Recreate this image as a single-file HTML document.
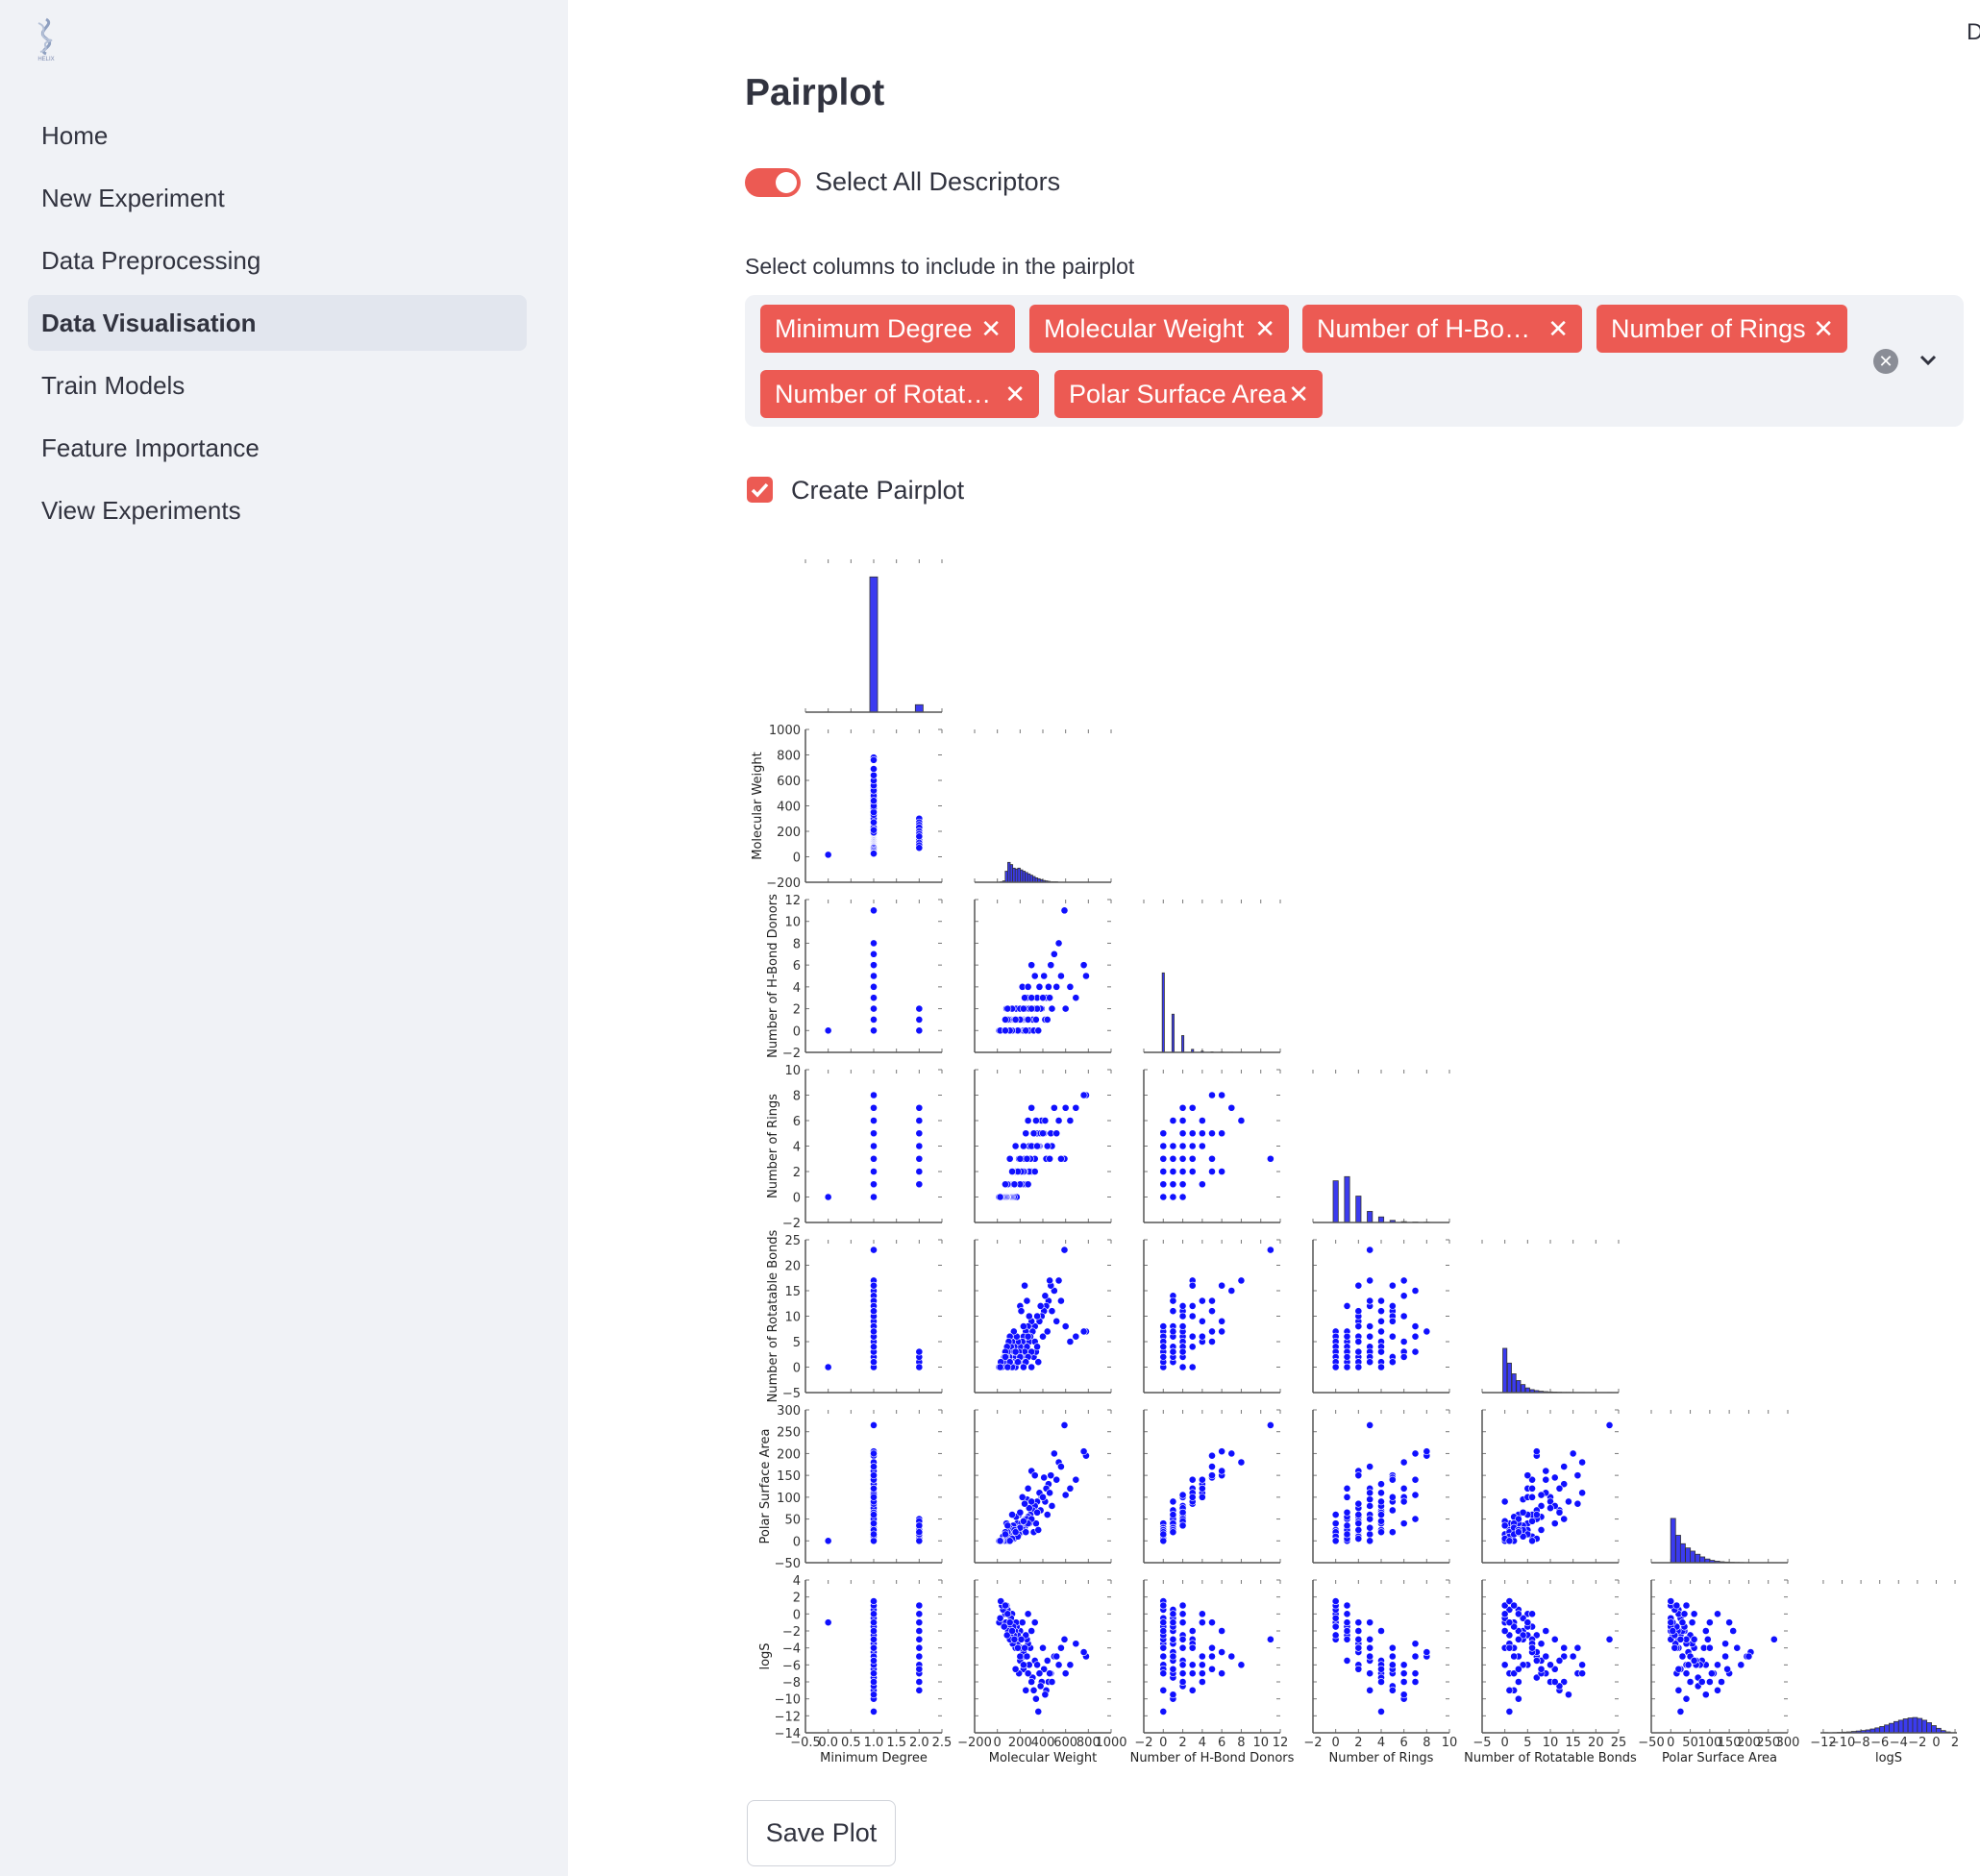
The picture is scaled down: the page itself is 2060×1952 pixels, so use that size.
<!DOCTYPE html>
<html><head><meta charset="utf-8">
<style>
body{margin:0;width:2060px;height:1952px;position:relative;background:#fff;font-family:"Liberation Sans",sans-serif;color:#31333f;overflow:hidden}
.sidebar{position:absolute;left:0;top:0;width:591px;height:1952px;background:#f0f2f6}
.nav{position:absolute;left:43px;font-size:26px;color:#31333f}
.active{position:absolute;left:29px;top:307px;width:519px;height:58px;background:#e2e6ee;border-radius:8px}
.tag{position:absolute;height:50px;background:#ec5a53;color:#fff;border-radius:6px;font-size:27px;line-height:50px;padding-left:15px;box-sizing:border-box;white-space:nowrap}
.tag span{position:absolute;right:14px;top:0;font-size:26px}
</style></head><body>
<div class="sidebar">
  <svg style="position:absolute;left:28px;top:16px" width="40" height="48" viewBox="0 0 40 48">
    <path d="M20 4 C30 10 8 16 20 24 C32 32 10 36 20 40" stroke="#8fa0c0" stroke-width="3" fill="none"/>
    <path d="M12 8 C26 14 6 22 26 26 C10 30 28 34 14 38" stroke="#b6c2d8" stroke-width="2" fill="none"/>
    <text x="20" y="47" font-size="6" text-anchor="middle" fill="#7d8bb0" font-family="Liberation Sans">HELIX</text>
  </svg>
  <div class="active"></div>
  <div class="nav" style="top:126px">Home</div>
  <div class="nav" style="top:191px">New Experiment</div>
  <div class="nav" style="top:256px">Data Preprocessing</div>
  <div class="nav" style="top:321px;font-weight:bold">Data Visualisation</div>
  <div class="nav" style="top:386px">Train Models</div>
  <div class="nav" style="top:451px">Feature Importance</div>
  <div class="nav" style="top:516px">View Experiments</div>
</div>
<div style="position:absolute;left:2046px;top:20px;font-size:24px">D</div>
<div style="position:absolute;left:775px;top:75px;font-size:39px;font-weight:bold">Pairplot</div>
<div style="position:absolute;left:775px;top:175px;width:58px;height:30px;border-radius:15px;background:#ec5a53"><div style="position:absolute;left:32px;top:4px;width:22px;height:22px;border-radius:11px;background:#fff"></div></div>
<div style="position:absolute;left:848px;top:174px;font-size:27px">Select All Descriptors</div>
<div style="position:absolute;left:775px;top:264px;font-size:23px">Select columns to include in the pairplot</div>
<div style="position:absolute;left:775px;top:307px;width:1268px;height:137px;background:#f0f2f6;border-radius:10px"></div>
<div class="tag" style="left:791px;top:317px;width:265px">Minimum Degree<span>✕</span></div>
<div class="tag" style="left:1071px;top:317px;width:270px">Molecular Weight<span>✕</span></div>
<div class="tag" style="left:1355px;top:317px;width:291px">Number of H-Bo…<span>✕</span></div>
<div class="tag" style="left:1661px;top:317px;width:261px">Number of Rings<span>✕</span></div>
<div class="tag" style="left:791px;top:385px;width:290px">Number of Rotat…<span>✕</span></div>
<div class="tag" style="left:1097px;top:385px;width:279px">Polar Surface Area<span>✕</span></div>
<div style="position:absolute;left:1949px;top:363px;width:26px;height:26px;border-radius:13px;background:#8a8d96;color:#fff;font-size:18px;text-align:center;line-height:26px">✕</div>
<svg style="position:absolute;left:1996px;top:368px" width="20" height="14"><path d="M3 3 L10 10 L17 3" stroke="#31333f" stroke-width="3" fill="none"/></svg>
<div style="position:absolute;left:777px;top:496px;width:27px;height:27px;border-radius:5px;background:#ec5a53"><svg width="27" height="27"><path d="M6 14 L11 19 L21 8" stroke="#fff" stroke-width="3.5" fill="none"/></svg></div>
<div style="position:absolute;left:823px;top:495px;font-size:27px">Create Pairplot</div>
<div style="position:absolute;left:777px;top:1873px;width:155px;height:69px;border:1px solid #d0d3da;border-radius:8px;box-sizing:border-box;font-size:27px;text-align:center;line-height:67px">Save Plot</div>
<svg id="chart" style="position:absolute;left:0;top:0" width="2060" height="1952"></svg>
<script>
const varNames=['Minimum Degree','Molecular Weight','Number of H-Bond Donors','Number of Rings','Number of Rotatable Bonds','Polar Surface Area','logS'];
const minDegree=[0,1,1,1,1,1,1,1,1,1,1,1,1,1,1,1,1,1,1,1,1,1,1,1,1,1,1,1,1,1,1,1,1,1,1,1,1,1,1,1,1,1,1,1,1,1,1,1,1,1,1,1,1,1,1,1,1,1,1,1,1,1,1,1,1,1,1,1,1,1,1,1,1,1,1,1,1,1,1,1,2,2,2,2,2,2,2,2,2,2,2,2];
const molWeight=[16,780,760,590,540,500,470,450,430,410,390,370,350,330,310,300,290,280,270,260,250,240,230,220,210,200,190,180,175,170,165,160,155,150,145,140,135,130,125,120,115,110,105,100,95,90,85,80,75,70,60,50,40,30,25,320,340,360,380,420,460,480,520,560,600,640,690,280,260,240,300,200,230,330,270,350,400,440,190,210,300,270,250,230,200,180,150,130,110,90,70,160];
const hBondDonors=[0,5,6,11,8,7,6,4,3,5,2,4,3,2,1,6,2,0,1,3,2,0,1,4,0,1,2,0,1,0,2,0,1,0,0,1,0,2,0,1,0,0,1,0,0,1,0,2,0,1,0,0,0,0,0,0,1,0,2,1,3,2,4,5,2,4,3,2,1,3,3,2,0,5,4,2,3,1,0,1,2,1,0,2,1,0,1,0,0,2,0,1];
const numRings=[0,8,8,3,6,7,5,4,3,5,6,4,5,3,4,2,3,4,2,3,1,3,2,1,2,1,2,1,2,0,1,2,1,1,0,1,2,0,1,0,1,0,1,0,1,0,0,0,1,0,0,0,0,0,0,5,6,4,5,6,3,4,5,3,7,6,7,2,3,2,4,1,2,2,1,4,5,4,3,2,7,6,5,4,3,2,1,2,3,1,1,4];
const rotBonds=[0,7,7,23,17,15,16,13,12,11,10,9,10,8,7,9,6,5,8,4,7,3,6,5,2,4,3,5,1,6,2,0,3,4,7,2,1,5,3,4,1,6,2,5,0,3,4,2,1,3,2,1,0,1,0,2,3,1,12,14,17,11,9,13,8,5,6,10,13,16,0,12,8,5,6,4,6,7,1,11,3,2,1,0,2,1,3,0,1,0,2,3];
const polarSA=[0,195,205,265,180,200,150,130,120,145,100,110,90,80,70,160,60,40,55,95,50,30,45,100,20,35,60,25,40,10,55,15,30,20,5,35,12,60,18,25,10,0,30,15,0,20,10,40,5,20,0,10,0,0,0,20,40,25,70,90,110,80,140,170,105,120,140,75,50,85,90,65,25,150,120,65,100,60,15,40,50,40,20,45,30,10,25,5,0,35,15,20];
const logS=[-1,-5,-4.5,-3,-6,-5,-7,-8,-9,-6.5,-8,-7,-6,-5.5,-7.5,-2,-4,-6,-3.5,-3,-2.5,-5,-4.5,-1,-4,-2,-3,-2.5,-3.5,-1.5,-1,-4,-2,-3,-2.5,-1.5,-3.5,0,-2,-0.5,-2.5,-3,-1,-1.5,-2,0.5,-2.5,1,-1,0,-1.5,0.5,1,1.5,-0.5,-9,-10,-11.5,-8.5,-9.5,-7,-8,-5,-4,-7,-6,-3.5,-6,-5,-4,-2,-5.5,-6.5,-1,0,-6,-4,-5.5,-7,-3,-8,-7,-9,-6,-5,-4,-3,-2,-1,0,1,-6.5];
const series=[minDegree,molWeight,hBondDonors,numRings,rotBonds,polarSA,logS];
const axisMin=[-0.5,-200,-2,-2,-5,-50,-14];
const axisMax=[2.5,1000,12,10,25,300,4];
const xMinLogS=-12.3, xMaxLogS=2.2;
const tickVals=[[-0.5,0,0.5,1,1.5,2,2.5],[-200,0,200,400,600,800,1000],[-2,0,2,4,6,8,10,12],[-2,0,2,4,6,8,10],[-5,0,5,10,15,20,25],[-50,0,50,100,150,200,250,300],[-14,-12,-10,-8,-6,-4,-2,0,2,4]];
const xTickLogS=[-12,-10,-8,-6,-4,-2,0,2];
const histCenters=[[0,1,2],[36,58,80,102,124,146,168,190,212,234,256,278,300,322,344,366,388,410,432,454,476,498,520],[0,1,2,3,4,5,6,7,8],[0,1,2,3,4,5,6,7,8],[0,1,2,3,4,5,6,7,8,9,10,11,12,13,14,15,16,17,23],[6,19,31,44,56,69,81,94,106,119,131,144,156,169,181,194,206,219,231,269],[-11.75,-11.25,-10.75,-10.25,-9.75,-9.25,-8.75,-8.25,-7.75,-7.25,-6.75,-6.25,-5.75,-5.25,-4.75,-4.25,-3.75,-3.25,-2.75,-2.25,-1.75,-1.25,-0.75,-0.25,0.25,0.75,1.25,1.75]];
const histCounts=[[1,1000,55],[1,3,25,45,40,32,30,32,28,25,22,19,16,13,10,8,6,4,3,2,1,1,1],[520,250,110,20,8,3,2,1,1],[300,330,190,80,40,15,6,3,2],[330,220,140,90,60,35,22,15,10,7,5,4,3,2,2,1,1,1,1],[420,260,180,140,110,80,55,35,22,14,9,6,4,3,2,1,1,1,0,1],[1,0,1,2,3,4,6,8,10,13,17,22,28,35,42,50,56,62,66,68,64,56,45,32,20,10,4,1]];
const histMax=[1130,346,1000,1100,1140,1450,680];
const histBarWidth=[0.17,22,0.22,0.45,0.9,12.5,0.5];

const NS='http://www.w3.org/2000/svg';
const svg=document.getElementById('chart');
const L0=838,T0=582,DX=176,DY=177,W=142,H=159;
function mk(tag,attrs,parent){const e=document.createElementNS(NS,tag);for(const k in attrs)e.setAttribute(k,attrs[k]);(parent||svg).appendChild(e);return e;}
function xDom(c){return c===6?[xMinLogS,xMaxLogS]:[axisMin[c],axisMax[c]];}
function xTicks(c){return c===6?xTickLogS:tickVals[c];}
function sx(c,v){const d=xDom(c);return L0+c*DX+(v-d[0])/(d[1]-d[0])*W;}
function sy(r,v){return T0+r*DY+H-(v-axisMin[r])/(axisMax[r]-axisMin[r])*H;}
function fmt(v){return (v<0?'−':'')+String(Math.abs(v));}
function fmtDeg(v){return (v<0?'−':'')+Math.abs(v).toFixed(1);}
const fontFam='"DejaVu Sans","Liberation Sans",sans-serif';
for(let r=0;r<7;r++){
  for(let c=0;c<=r;c++){
    const g=mk('g',{});
    
    
    const left=L0+c*DX, top=T0+r*DY, bottom=top+H, right=left+W;
    xTicks(c).forEach(t=>{const x=sx(c,t);
      mk('line',{x1:x,x2:x,y1:bottom,y2:bottom-4,stroke:'#777','stroke-width':1},g);
      mk('line',{x1:x,x2:x,y1:top,y2:top+4,stroke:'#777','stroke-width':1},g);
      if(r===6){const tl=mk('text',{x:x,y:bottom+14,'font-size':13,'text-anchor':'middle',fill:'#333','font-family':fontFam},g);tl.textContent=c===0?fmtDeg(t):fmt(t);
        
        }
    });
    if(c!==r){
      tickVals[r].forEach(t=>{const y=sy(r,t);
        mk('line',{x1:left,x2:left+4,y1:y,y2:y,stroke:'#777','stroke-width':1},g);
        mk('line',{x1:right,x2:right-4,y1:y,y2:y,stroke:'#777','stroke-width':1},g);
        if(c===0){const tl=mk('text',{x:left-5,y:y+5,'font-size':13,'text-anchor':'end',fill:'#333','font-family':fontFam},g);tl.textContent=fmt(t);
          
          }
      });
      mk('line',{x1:left,x2:left,y1:top,y2:bottom,stroke:'#555','stroke-width':1.5},g);
      const xs=series[c], ys=series[r];
      for(let i=0;i<xs.length;i++){
        const p=mk('circle',{cx:sx(c,xs[i]),cy:sy(r,ys[i]),r:3.6,fill:'#1010ff',stroke:'#fff','stroke-width':0.6},g);
        
        
      }
    } else {
      const cs=histCenters[c], ns=histCounts[c];
      for(let i=0;i<cs.length;i++){
        if(ns[i]<=0)continue;
        const x0=sx(c,cs[i]-histBarWidth[c]/2), x1=sx(c,cs[i]+histBarWidth[c]/2);
        const h=ns[i]/histMax[c]*H;
        const b=mk('rect',{x:x0,y:bottom-h,width:Math.max(1,x1-x0),height:h,fill:'#3b3bf0',stroke:'#333','stroke-width':0.8},g);
        
        
      }
    }
    mk('line',{x1:left,x2:right,y1:bottom,y2:bottom,stroke:'#555','stroke-width':1.5},g);
    if(c===0&&r>0){
      const maxLen=Math.max(...tickVals[r].map(t=>fmt(t).length));
      const ax=left-14-maxLen*8;
      const yl=mk('text',{x:ax,y:top+H/2,'font-size':13,'text-anchor':'middle',fill:'#222','font-family':fontFam,transform:'rotate(-90 '+ax+' '+(top+H/2)+')'},g);
      yl.textContent=varNames[r];
      
      
    }
    if(r===6){
      const xl=mk('text',{x:left+W/2,y:bottom+30,'font-size':13,'text-anchor':'middle',fill:'#222','font-family':fontFam},g);
      xl.textContent=varNames[c];
      
      
    }
  }
}
</script>
</body></html>
